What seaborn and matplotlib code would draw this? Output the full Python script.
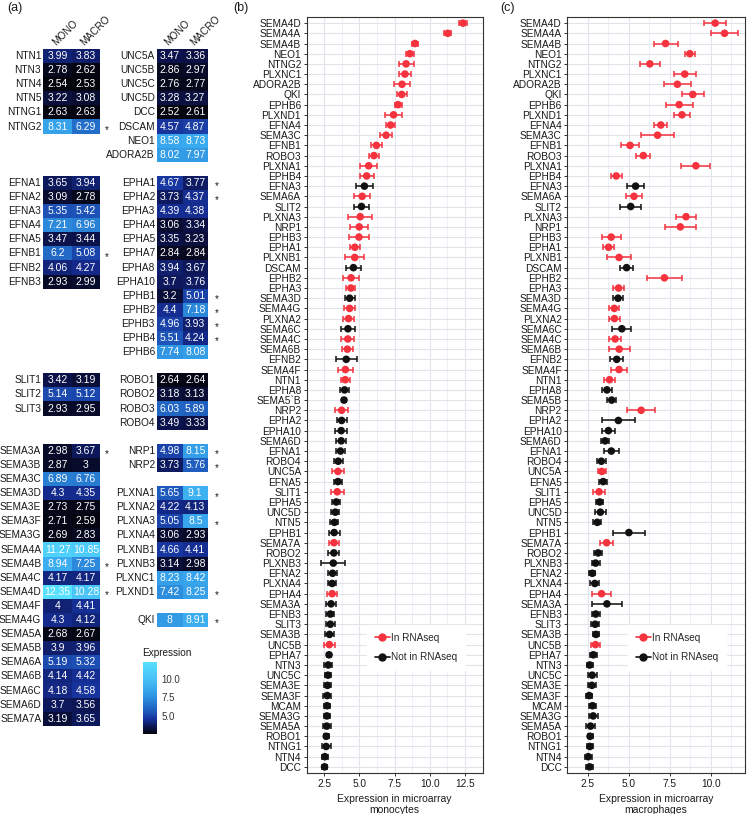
import numpy as np
import pandas as pd
import matplotlib
matplotlib.use("Agg")
import matplotlib.pyplot as plt
import seaborn as sns
from matplotlib.colors import LinearSegmentedColormap
from matplotlib.lines import Line2D

# genes in the order of panels (b) and (c), sorted by monocyte expression
genes = ["SEMA4D", "SEMA4A", "SEMA4B", "NEO1", "NTNG2", "PLXNC1", "ADORA2B", "QKI",
         "EPHB6", "PLXND1", "EFNA4", "SEMA3C", "EFNB1", "ROBO3", "PLXNA1", "EPHB4",
         "EFNA3", "SEMA6A", "SLIT2", "PLXNA3", "NRP1", "EPHB3", "EPHA1", "PLXNB1",
         "DSCAM", "EPHB2", "EPHA3", "SEMA3D", "SEMA4G", "PLXNA2", "SEMA6C", "SEMA4C",
         "SEMA6B", "EFNB2", "SEMA4F", "NTN1", "EPHA8", "SEMA5B", "NRP2", "EPHA2",
         "EPHA10", "SEMA6D", "EFNA1", "ROBO4", "UNC5A", "EFNA5", "SLIT1", "EPHA5",
         "UNC5D", "NTN5", "EPHB1", "SEMA7A", "ROBO2", "PLXNB3", "EFNA2", "PLXNA4",
         "EPHA4", "SEMA3A", "EFNB3", "SLIT3", "SEMA3B", "UNC5B", "EPHA7", "NTN3",
         "UNC5C", "SEMA3E", "SEMA3F", "MCAM", "SEMA3G", "SEMA5A", "ROBO1", "NTNG1",
         "NTN4", "DCC"]
mono = [12.35, 11.27, 8.94, 8.58, 8.31, 8.23, 8.02, 8.00, 7.74, 7.42, 7.21, 6.89,
        6.20, 6.03, 5.65, 5.51, 5.35, 5.19, 5.14, 5.05, 4.98, 4.96, 4.67, 4.66,
        4.57, 4.40, 4.39, 4.30, 4.30, 4.22, 4.18, 4.17, 4.14, 4.06, 4.00, 3.99,
        3.94, 3.90, 3.73, 3.73, 3.70, 3.70, 3.65, 3.49, 3.47, 3.47, 3.42, 3.35,
        3.28, 3.22, 3.20, 3.19, 3.18, 3.14, 3.09, 3.06, 3.06, 2.98, 2.93, 2.93,
        2.87, 2.86, 2.84, 2.78, 2.76, 2.73, 2.71, 2.70, 2.69, 2.68, 2.64, 2.63,
        2.54, 2.52]
macro = [10.28, 10.85, 7.25, 8.73, 6.29, 8.42, 7.97, 8.91, 8.08, 8.25, 6.96, 6.76,
         5.08, 5.89, 9.10, 4.24, 5.42, 5.32, 5.12, 8.50, 8.15, 3.93, 3.77, 4.41,
         4.87, 7.18, 4.38, 4.35, 4.12, 4.13, 4.58, 4.17, 4.42, 4.27, 4.41, 3.83,
         3.67, 3.96, 5.76, 4.37, 3.76, 3.56, 3.94, 3.33, 3.36, 3.44, 3.19, 3.23,
         3.27, 3.08, 5.01, 3.65, 3.13, 2.98, 2.78, 2.93, 3.34, 3.67, 2.99, 2.95,
         3.00, 2.97, 2.84, 2.62, 2.77, 2.75, 2.59, 2.79, 2.83, 2.67, 2.64, 2.63,
         2.53, 2.61]
mono_err = [0.30, 0.24, 0.23, 0.26, 0.53, 0.45, 0.55, 0.37, 0.25, 0.58, 0.33, 0.45,
            0.40, 0.34, 0.58, 0.50, 0.59, 0.59, 0.53, 0.84, 0.63, 0.69, 0.34, 0.68,
            0.56, 0.57, 0.32, 0.35, 0.39, 0.39, 0.51, 0.47, 0.38, 0.73, 0.53, 0.31,
            0.33, 0.17, 0.44, 0.35, 0.43, 0.35, 0.35, 0.32, 0.41, 0.28, 0.46, 0.30,
            0.28, 0.28, 0.39, 0.34, 0.39, 0.84, 0.30, 0.27, 0.34, 0.34, 0.28, 0.32,
            0.35, 0.38, 0.16, 0.30, 0.23, 0.28, 0.27, 0.23, 0.22, 0.30, 0.18, 0.32,
            0.21, 0.19]
macro_err = [0.67, 0.81, 0.73, 0.31, 0.60, 0.66, 0.83, 0.67, 0.82, 0.50, 0.40, 1.00,
             0.56, 0.43, 0.88, 0.34, 0.53, 0.50, 0.63, 0.61, 0.94, 0.59, 0.31, 0.75,
             0.42, 1.09, 0.35, 0.30, 0.31, 0.32, 0.59, 0.36, 0.64, 0.40, 0.50, 0.35,
             0.33, 0.27, 0.84, 1.03, 0.39, 0.23, 0.45, 0.27, 0.24, 0.26, 0.34, 0.21,
             0.35, 0.24, 0.96, 0.41, 0.22, 0.24, 0.18, 0.28, 0.60, 0.91, 0.23, 0.25,
             0.21, 0.25, 0.23, 0.19, 0.28, 0.24, 0.18, 0.20, 0.27, 0.28, 0.15, 0.17,
             0.21, 0.21]
in_rnaseq = [1, 1, 1, 1, 1, 1, 1, 1, 1, 1, 1, 1, 1, 1, 1, 1,
             0, 1, 0, 1, 1, 1, 1, 1, 0, 1, 1, 0, 1, 1, 0, 1,
             1, 0, 1, 1, 0, 0, 1, 0, 0, 0, 0, 0, 1, 0, 1, 0,
             0, 0, 0, 1, 0, 0, 0, 0, 1, 0, 0, 0, 0, 1, 0, 0,
             0, 0, 0, 0, 0, 0, 0, 0, 0, 0]

# heatmap (a) layout: four blocks, left and right column
left_blocks = [["NTN1", "NTN3", "NTN4", "NTN5", "NTNG1", "NTNG2"],
               ["EFNA1", "EFNA2", "EFNA3", "EFNA4", "EFNA5", "EFNB1", "EFNB2", "EFNB3"],
               ["SLIT1", "SLIT2", "SLIT3"],
               ["SEMA3A", "SEMA3B", "SEMA3C", "SEMA3D", "SEMA3E", "SEMA3F", "SEMA3G",
                "SEMA4A", "SEMA4B", "SEMA4C", "SEMA4D", "SEMA4F", "SEMA4G", "SEMA5A",
                "SEMA5B", "SEMA6A", "SEMA6B", "SEMA6C", "SEMA6D", "SEMA7A"]]
right_blocks = [["UNC5A", "UNC5B", "UNC5C", "UNC5D", "DCC", "DSCAM", "NEO1", "ADORA2B"],
                ["EPHA1", "EPHA2", "EPHA3", "EPHA4", "EPHA5", "EPHA7", "EPHA8", "EPHA10",
                 "EPHB1", "EPHB2", "EPHB3", "EPHB4", "EPHB6"],
                ["ROBO1", "ROBO2", "ROBO3", "ROBO4"],
                ["NRP1", "NRP2", "", "PLXNA1", "PLXNA2", "PLXNA3", "PLXNA4", "PLXNB1",
                 "PLXNB3", "PLXNC1", "PLXND1", "", "QKI"]]
block_rows = [8, 13, 4, 20]
starred = ["NTNG2", "EFNB1", "SEMA3A", "SEMA4B", "SEMA4D",
           "EPHA1", "EPHA2", "EPHB1", "EPHB2", "EPHB3", "EPHB4",
           "NRP1", "NRP2", "PLXNA1", "PLXNA3", "PLXND1", "QKI"]

RED = "#F5333F"
BLACK = "#111111"
TXT = "#1a1a1a"

sns.set_theme(style="white")
plt.rcParams["font.family"] = ["Liberation Sans", "DejaVu Sans"]

df = pd.DataFrame({"gene": genes, "mono": mono, "macro": macro,
                   "mono_err": mono_err, "macro_err": macro_err,
                   "rnaseq": in_rnaseq})
df["status"] = np.where(df["rnaseq"] == 1, "In RNAseq", "Not in RNAseq")
df["pos"] = np.arange(len(df))
expr = {g: (a, b) for g, a, b in zip(genes, mono, macro)}

cmap = LinearSegmentedColormap.from_list(
    "expr", [(0.0, "#04040c"), (0.10, "#0c1450"), (0.20, "#16309a"), (0.30, "#1d55b8"),
             (0.405, "#2474cc"), (0.507, "#2e90e0"), (0.608, "#38a6ec"),
             (0.76, "#46c0f6"), (1.0, "#58e0ff")])
vmin, vmax = min(mono + macro), max(mono + macro)

fig = plt.figure(figsize=(7.48, 8.14), dpi=100)


def layout(blocks):
    names = []
    for blk, n in zip(blocks, block_rows):
        names += blk + [""] * (n - len(blk)) + [""]
    return names[:-1]


heat_axes = [fig.add_axes([0.0579, 0.1084, 0.0758, 0.8314]),
             fig.add_axes([0.2099, 0.1084, 0.0682, 0.8314])]
for ax, blocks, star_x in zip(heat_axes, [left_blocks, right_blocks], [2.25, 2.35]):
    names = layout(blocks)
    vals = np.array([list(expr[g]) if g else [np.nan, np.nan] for g in names])
    annot = np.array([[f"{v:g}" if not np.isnan(v) else "" for v in row] for row in vals])
    sns.heatmap(vals, ax=ax, cmap=cmap, vmin=vmin, vmax=vmax, cbar=False,
                mask=np.isnan(vals), annot=annot, fmt="",
                annot_kws=dict(size=7.5, color="white"),
                xticklabels=["MONO", "MACRO"], yticklabels=names)
    ax.xaxis.tick_top()
    ax.tick_params(length=0, pad=1.5)
    plt.setp(ax.get_yticklabels(), rotation=0, fontsize=7.3, color=TXT)
    plt.setp(ax.get_xticklabels(), rotation=45, ha="left", va="bottom",
             rotation_mode="anchor", fontsize=7.2, color=TXT)
    for lab in ax.get_xticklabels():
        lab.set_x(lab.get_position()[0] - 0.1)
    for i, g in enumerate(names):
        if g in starred:
            ax.text(star_x, i + 0.75, "*", ha="center", va="center",
                    fontsize=7, color=TXT, clip_on=False)

cax = fig.add_axes([0.1916, 0.0983, 0.0187, 0.0888])
cb = fig.colorbar(heat_axes[0].collections[0], cax=cax, ticks=[5.0, 7.5, 10.0])
cb.outline.set_visible(False)
cb.ax.set_yticklabels(["5.0", "7.5", "10.0"])
cax.tick_params(axis="y", which="both", direction="in", length=2.5, width=0.8,
                color="white", left=True, right=True, labelsize=7, labelcolor="#333333",
                pad=3)
fig.text(142 / 748, 1 - 652.7 / 814, "Expression", fontsize=7.2, color=TXT, va="center")

# panels (b) and (c)
labels_b = [g.replace("SEMA5B", "SEMA5`B") for g in genes]
panels = [
    ([0.4100, 0.0504, 0.2353, 0.9287], "mono", "mono_err", labels_b,
     "Expression in microarray\nmonocytes", (1.85, 13.0), [2.5, 5.0, 7.5, 10.0, 12.5]),
    ([0.7584, 0.0504, 0.2376, 0.9287], "macro", "macro_err", genes,
     "Expression in microarray\nmacrophages", (1.96, 12.1), [2.5, 5.0, 7.5, 10.0]),
]
for rect, col, err, labels, xlabel, xlim, xt in panels:
    ax = fig.add_axes(rect)
    ax.set_axisbelow(True)
    for flag, color in ((1, RED), (0, BLACK)):
        sub = df[df["rnaseq"] == flag]
        ax.errorbar(sub[col], sub["pos"], xerr=sub[err], fmt="none", ecolor=color,
                    elinewidth=1.1, capsize=2.2, capthick=1.1, zorder=2)
    sns.scatterplot(data=df, x=col, y="pos", hue="status",
                    palette={"In RNAseq": RED, "Not in RNAseq": BLACK},
                    s=30, edgecolor="none", linewidth=0, legend=False, ax=ax, zorder=3)
    ax.set_xlim(*xlim)
    ax.set_ylim(len(df) - 0.4, -0.6)
    ax.set_yticks(df["pos"], labels)
    ax.set_xticks(xt, [f"{v:.1f}" for v in xt])
    ax.set_xticks([v + 1.25 for v in xt] + [xt[0] - 1.25 + 0.0001], minor=True)
    ax.grid(True, which="major", color="#e0e5ec", linewidth=0.8)
    ax.grid(True, which="minor", axis="x", color="#eaeef3", linewidth=0.6)
    ax.tick_params(axis="both", which="major", direction="out", length=2.5, width=0.7,
                   color="#333333", labelsize=7.3, labelcolor=TXT, pad=1.5,
                   left=True, bottom=True)
    ax.tick_params(axis="x", which="minor", length=0)
    for s in ax.spines.values():
        s.set_color("#333333")
        s.set_linewidth(0.8)
    ax.set_xlabel(xlabel, fontsize=7.5, color=TXT, labelpad=4, linespacing=1.15)
    ax.set_ylabel("")
    handles = [Line2D([0], [0], color=RED, marker="o", markersize=5, linewidth=1.2),
               Line2D([0], [0], color=BLACK, marker="o", markersize=5, linewidth=1.2)]
    leg = ax.legend(handles, ["In RNAseq", "Not in RNAseq"], loc="center left",
                    bbox_to_anchor=(0.34, 0.166), borderaxespad=0, borderpad=0.8,
                    handlelength=1.5, handletextpad=0.15, labelspacing=0.95,
                    fontsize=7.2, frameon=True, facecolor="white", edgecolor="white",
                    framealpha=1, fancybox=False)

fig.text(7 / 748, 1 - 8.3 / 814, "(a)", fontsize=9, color=TXT, va="center")
fig.text(233 / 748, 1 - 8.3 / 814, "(b)", fontsize=9, color=TXT, va="center")
fig.text(500 / 748, 1 - 8.3 / 814, "(c)", fontsize=9, color=TXT, va="center")

fig.savefig("out.png", dpi=100, facecolor="white")
